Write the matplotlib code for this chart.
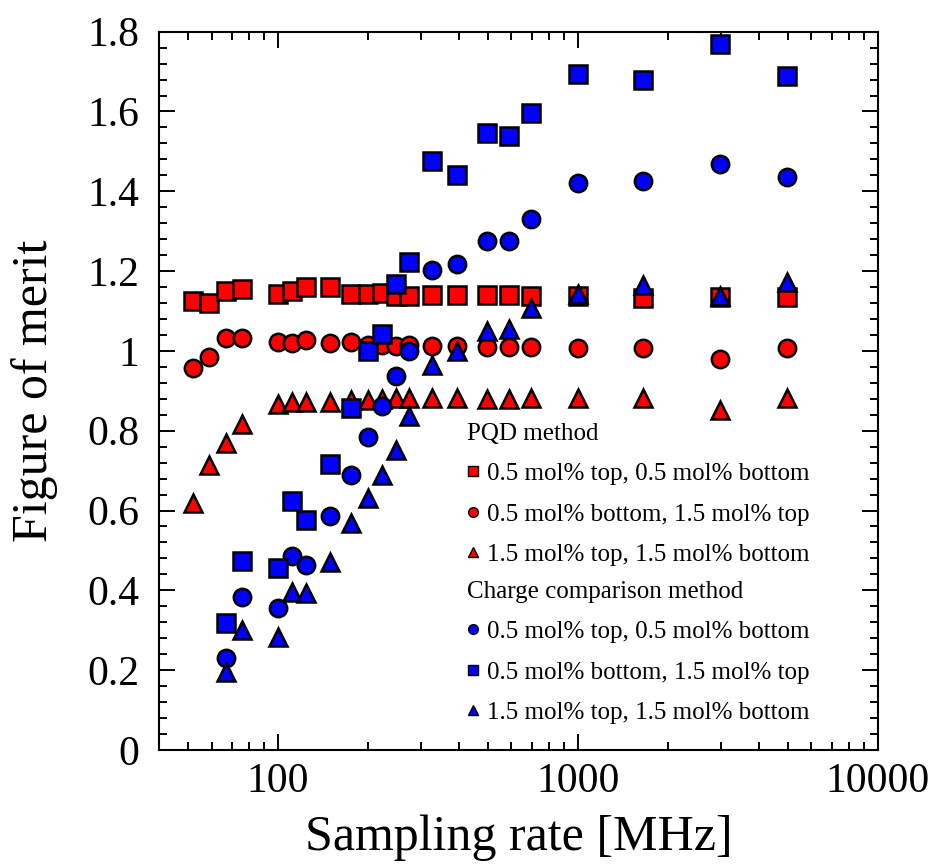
import matplotlib
matplotlib.use("Agg")
import matplotlib.pyplot as plt
from matplotlib.lines import Line2D
from matplotlib.ticker import FixedLocator, MultipleLocator, LogLocator, NullFormatter, FuncFormatter

plt.rcParams['font.family'] = ['Liberation Serif', 'DejaVu Serif']

# sampling rates [MHz]
rate = [52, 59, 67, 76, 100, 111, 124, 149, 175, 200, 222, 247, 274, 327,
        396, 498, 591, 698, 1000, 1650, 2970, 4970]
# charge comparison runs start at the third rate
rate_cc = rate[2:]

# PQD method
pqd_05_05 = [1.124, 1.120, 1.149, 1.155, 1.143, 1.151, 1.159, 1.159, 1.143, 1.143, 1.146,
             1.138, 1.138, 1.140, 1.140, 1.140, 1.140, 1.137, 1.137, 1.133, 1.135, 1.135]
pqd_05_15 = [0.957, 0.985, 1.032, 1.032, 1.022, 1.020, 1.028, 1.020, 1.022, 1.016, 1.016,
             1.013, 1.016, 1.013, 1.013, 1.010, 1.010, 1.010, 1.007, 1.007, 0.980, 1.007]
pqd_15_15 = [0.620, 0.715, 0.770, 0.817, 0.868, 0.873, 0.873, 0.873, 0.878, 0.878, 0.879,
             0.882, 0.882, 0.882, 0.882, 0.879, 0.879, 0.882, 0.882, 0.882, 0.853, 0.882]

# charge comparison method
cc_05_05 = [0.230, 0.384, 0.355, 0.485, 0.464, 0.587, 0.690, 0.784, 0.861, 0.938,
            0.999, 1.202, 1.219, 1.276, 1.276, 1.331, 1.421, 1.425, 1.469, 1.435]
cc_05_15 = [0.319, 0.474, 0.456, 0.623, 0.577, 0.717, 0.857, 0.999, 1.042, 1.168,
            1.224, 1.475, 1.440, 1.546, 1.538, 1.595, 1.693, 1.680, 1.770, 1.688]
cc_15_15 = [0.196, 0.301, 0.284, 0.397, 0.393, 0.472, 0.568, 0.631, 0.690, 0.752,
            0.836, 0.965, 0.999, 1.049, 1.055, 1.108, 1.143, 1.166, 1.138, 1.172]

labels_pqd = ["0.5 mol% top, 0.5 mol% bottom",
              "0.5 mol% bottom, 1.5 mol% top",
              "1.5 mol% top, 1.5 mol% bottom"]
labels_cc = ["0.5 mol% top, 0.5 mol% bottom",
             "0.5 mol% bottom, 1.5 mol% top",
             "1.5 mol% top, 1.5 mol% bottom"]

RED = "#ff0000"
BLUE = "#0000ff"
MS = 12.5
MEW = 1.8

fig = plt.figure(figsize=(9.39, 8.68), dpi=100)
ax = fig.add_axes([0.169, 0.136, 0.766, 0.8275])

def pts(x, y, marker, color):
    ax.plot(x, y, ls="none", marker=marker, ms=MS, mfc=color, mec="black", mew=MEW)

pts(rate, pqd_05_05, "s", RED)
pts(rate, pqd_05_15, "o", RED)
pts(rate, pqd_15_15, "^", RED)
pts(rate_cc, cc_05_05, "o", BLUE)
pts(rate_cc, cc_05_15, "s", BLUE)
pts(rate_cc, cc_15_15, "^", BLUE)

ax.set_xscale("log")
ax.set_xlim(40, 10000)
ax.set_ylim(0, 1.8)
ax.xaxis.set_major_locator(FixedLocator([100, 1000, 10000]))
ax.xaxis.set_major_formatter(FuncFormatter(lambda v, p: "%d" % v))
ax.xaxis.set_minor_locator(LogLocator(base=10, subs=range(2, 10)))
ax.xaxis.set_minor_formatter(NullFormatter())
ax.yaxis.set_major_locator(MultipleLocator(0.2))
ax.yaxis.set_minor_locator(MultipleLocator(0.04))
ax.yaxis.set_major_formatter(FuncFormatter(lambda v, p: "%g" % round(v, 2)))

ax.tick_params(which="both", direction="in", top=True, right=True, width=1.4,
               labelsize=30)
ax.tick_params(which="major", length=11.5)
ax.tick_params(which="minor", length=5.5)
ax.tick_params(axis="y", pad=14)
ax.tick_params(axis="x", pad=9)
for s in ax.spines.values():
    s.set_linewidth(1.5)

ax.set_xlabel("Sampling rate [MHz]", fontsize=36, labelpad=10)
ax.set_ylabel("Figure of merit", fontsize=36, labelpad=21)

def handles(color, markers):
    return [Line2D([], [], ls="none", marker=m, ms=7, mfc=color, mec="black", mew=1)
            for m in markers]

leg_kw = dict(frameon=False, fontsize=18, title_fontsize=18, alignment="left",
              handlelength=0.5, handletextpad=0.3, labelspacing=0.72,
              borderpad=0, borderaxespad=0, loc="lower left")
leg1 = ax.legend(handles(RED, ("s", "o", "^")), labels_pqd, title="PQD method",
                 bbox_to_anchor=(0.428, 0.256), **leg_kw)
ax.add_artist(leg1)
ax.legend(handles(BLUE, ("o", "s", "^")), labels_cc,
          title="Charge comparison method",
          bbox_to_anchor=(0.428, 0.036), **leg_kw)

fig.savefig("out.png", dpi=100)
